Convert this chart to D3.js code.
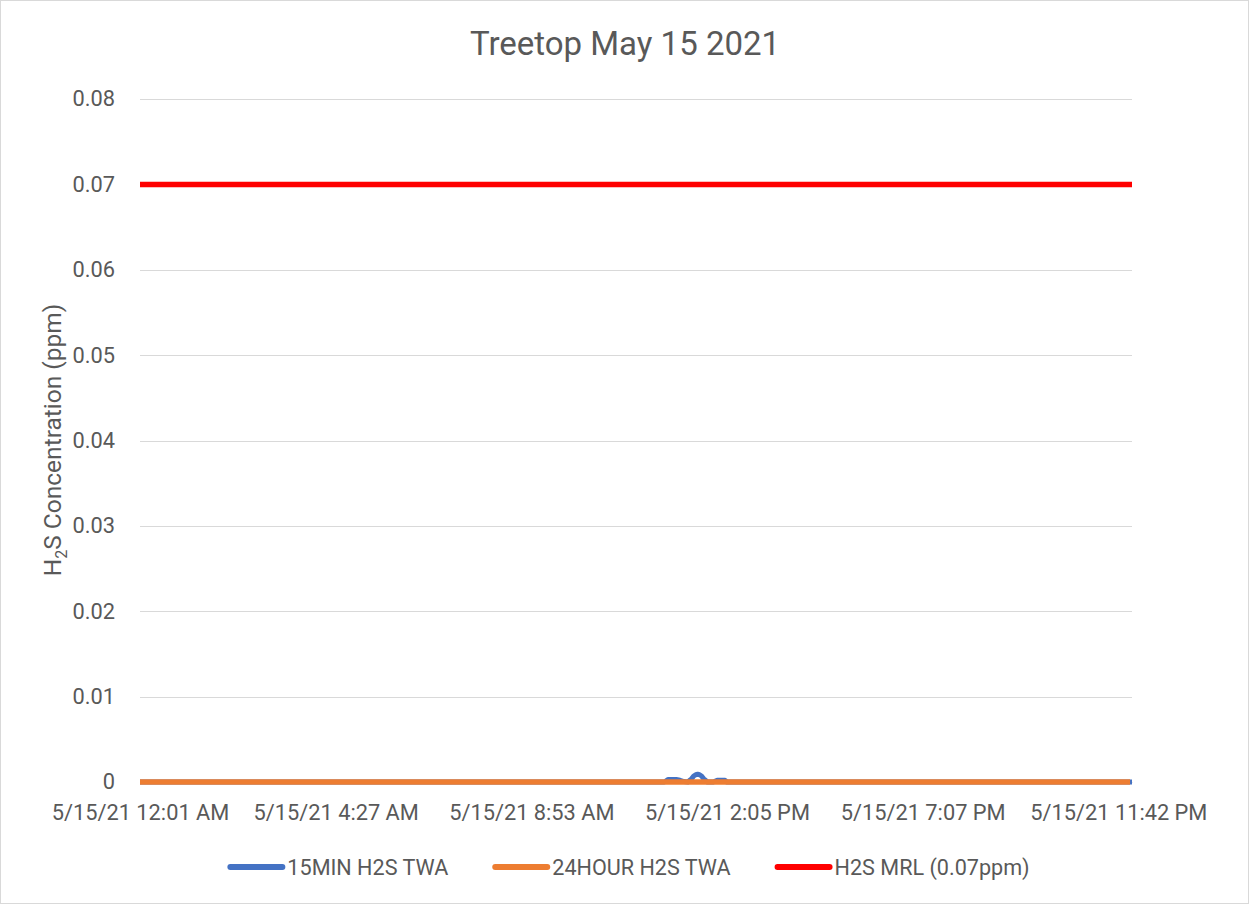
<!DOCTYPE html>
<html>
<head>
<meta charset="utf-8">
<script src="https://cdn.jsdelivr.net/npm/d3@7"></script>
<style>
  html, body { margin: 0; padding: 0; background: #fff; }
  svg { display: block; font-family: Roboto, "Liberation Sans", sans-serif; }
</style>
</head>
<body>
<svg id="chart" width="1249" height="904"></svg>
<script>
// ---------- data ----------
const chartTitle = "Treetop May 15 2021";
const seriesNames = ["15MIN H2S TWA", "24HOUR H2S TWA", "H2S MRL (0.07ppm)"];
const seriesColors = ["#4472c4", "#ed7d31", "#ff0000"];

// category axis: sample index positions and the labels shown under them
const sampleCount = 508;
const tickIdx = [0, 100, 200, 300, 400, 500];
const tickLabels = ["5/15/21 12:01 AM", "5/15/21 4:27 AM", "5/15/21 8:53 AM",
                    "5/15/21 2:05 PM", "5/15/21 7:07 PM", "5/15/21 11:42 PM"];

// 15 minute TWA: sample index / value pairs (zero elsewhere)
const twa15Idx    = [0, 268, 270, 272, 274, 276, 278, 280, 282, 283, 284, 285, 286, 287, 288, 290, 293, 295, 297, 299, 300, 507];
const twa15Values = [0, 0, 0.0003, 0.0003, 0.0003, 0.0002, 0.00005, 0, 0.0004, 0.0007, 0.00085, 0.0009, 0.00085, 0.0007, 0.0004, 0, 0, 0.0002, 0.0002, 0.0002, 0, 0];

// 24 hour TWA
const twa24Idx    = [0, 506];
const twa24Values = [0, 0];

// MRL threshold
const mrlIdx    = [0, 507];
const mrlValues = [0.07, 0.07];

const yTicks = [0, 0.01, 0.02, 0.03, 0.04, 0.05, 0.06, 0.07, 0.08];
const yTickLabels = ["0", "0.01", "0.02", "0.03", "0.04", "0.05", "0.06", "0.07", "0.08"];

// ---------- drawing ----------
const W = 1249, H = 904;
const plot = { left: 140, right: 1132, top: 99, bottom: 782 };

const svg = d3.select("#chart");
svg.append("rect").attr("x", 0.5).attr("y", 0.5).attr("width", W - 1).attr("height", H - 1)
  .attr("fill", "#fff").attr("stroke", "#d9d9d9");

const x = d3.scaleLinear().domain([0, sampleCount - 1]).range([plot.left, plot.right]);
const y = d3.scaleLinear().domain([0, 0.08]).range([plot.bottom, plot.top]);

// gridlines
svg.append("g").selectAll("line").data(yTicks).join("line")
  .attr("x1", plot.left).attr("x2", plot.right)
  .attr("y1", d => Math.round(y(d)) + 0.5).attr("y2", d => Math.round(y(d)) + 0.5)
  .attr("stroke", "#d9d9d9").attr("stroke-width", 1);

// y axis
const yAxis = svg.append("g").attr("transform", `translate(${plot.left},0)`)
  .call(d3.axisLeft(y).tickValues(yTicks).tickSize(0).tickPadding(25)
    .tickFormat((d, i) => yTickLabels[i]));
yAxis.select(".domain").remove();
yAxis.selectAll("text").attr("font-size", "21.8px").attr("fill", "#595959")
  .attr("font-family", "Roboto, sans-serif");

// x axis
const xAxis = svg.append("g").attr("transform", `translate(0,${plot.bottom})`)
  .call(d3.axisBottom(x).tickValues(tickIdx).tickSize(0).tickPadding(23)
    .tickFormat((d, i) => tickLabels[i]));
xAxis.select(".domain").attr("stroke", "#d9d9d9");
xAxis.selectAll("text").attr("font-size", "21.8px").attr("fill", "#595959")
  .attr("font-family", "Roboto, sans-serif");

// lines
const line = d3.line().x(d => x(d[0])).y(d => y(d[1]));
const zipS = (a, b) => a.map((v, i) => [v, b[i]]);

svg.append("path").datum(zipS(twa15Idx, twa15Values))
  .attr("d", line).attr("fill", "none").attr("stroke", seriesColors[0])
  .attr("stroke-width", 5).attr("stroke-linejoin", "round");
svg.append("path").datum(zipS(twa24Idx, twa24Values))
  .attr("d", line).attr("fill", "none").attr("stroke", seriesColors[1])
  .attr("stroke-width", 5.3).attr("stroke-linejoin", "round");
svg.append("path").datum(zipS(mrlIdx, mrlValues))
  .attr("d", line).attr("fill", "none").attr("stroke", seriesColors[2])
  .attr("stroke-width", 5.5);

// title
svg.append("text").attr("x", 625).attr("y", 55).attr("text-anchor", "middle")
  .attr("font-size", "33px").attr("fill", "#595959").text(chartTitle);

// y axis title with subscript
const yt = svg.append("text").attr("transform", "translate(61,440) rotate(-90)")
  .attr("text-anchor", "middle").attr("font-size", "24.5px").attr("fill", "#595959");
yt.append("tspan").text("H");
yt.append("tspan").attr("font-size", "16px").attr("dy", "6").text("2");
yt.append("tspan").attr("dy", "-6").text("S Concentration (ppm)");

// legend
const legend = svg.append("g");
const items = seriesNames.map((name, i) => {
  const g = legend.append("g");
  g.append("line").attr("x1", 3).attr("x2", 55).attr("y1", 0).attr("y2", 0)
    .attr("stroke", seriesColors[i]).attr("stroke-width", 6).attr("stroke-linecap", "round");
  const t = g.append("text").attr("x", 60).attr("dy", "0.35em")
    .attr("font-size", "21.6px").attr("fill", "#595959").text(name);
  return { g, w: 60 + t.node().getComputedTextLength() };
});
const gap = 44;
const total = d3.sum(items, d => d.w) + gap * (items.length - 1);
let cx = 628.5 - total / 2;
items.forEach(it => {
  it.g.attr("transform", `translate(${cx},867)`);
  cx += it.w + gap;
});
</script>
</body>
</html>
